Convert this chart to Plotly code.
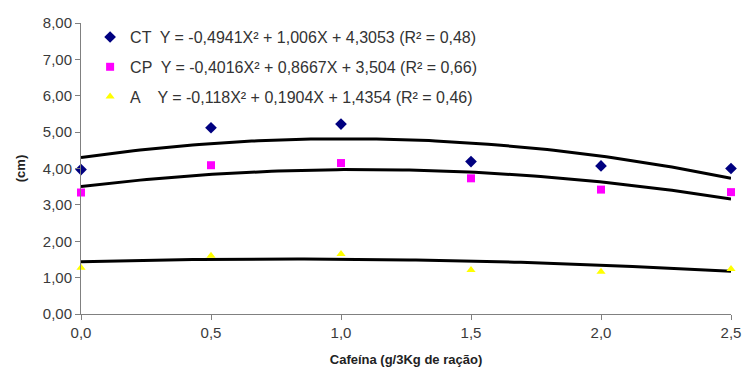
import numpy as np
import plotly.graph_objects as go

# ---- data ----
doses = [0.0, 0.5, 1.0, 1.5, 2.0, 2.5]
ct_vals = [3.97, 5.12, 5.22, 4.19, 4.07, 4.00]
cp_vals = [3.34, 4.09, 4.15, 3.73, 3.42, 3.35]
a_vals = [1.27, 1.60, 1.65, 1.21, 1.16, 1.24]

# trendline coefficients (a, b, c) for Y = aX^2 + bX + c, as printed on the chart
ct_coef = [-0.4941, 1.006, 4.3053]
cp_coef = [-0.4016, 0.8667, 3.504]
a_coef = [-0.118, 0.1904, 1.4354]

ct_label = "CT  Y = -0,4941X² + 1,006X + 4,3053 (R² = 0,48)"
cp_label = "CP  Y = -0,4016X² + 0,8667X + 3,504 (R² = 0,66)"
a_label = "A    Y = -0,118X² + 0,1904X + 1,4354 (R² = 0,46)"

x_ticks = [0.0, 0.5, 1.0, 1.5, 2.0, 2.5]
y_ticks = [0, 1, 2, 3, 4, 5, 6, 7, 8]

FONT = "Liberation Sans, Arial, sans-serif"

fig = go.Figure()

xs = np.linspace(min(doses), max(doses), 100)
for coef in (ct_coef, cp_coef, a_coef):
    fig.add_trace(go.Scatter(
        x=xs, y=np.polyval(coef, xs), mode="lines",
        line=dict(color="black", width=3), showlegend=False, hoverinfo="skip",
    ))

series = [
    (ct_label, ct_vals, "diamond", "#000080", 9, "g1"),
    (cp_label, cp_vals, "square", "#FF00FF", 8, "g2"),
    (a_label, a_vals, "triangle-up", "#FFFF00", 8, "g3"),
]
for name, vals, sym, col, size, grp in series:
    fig.add_trace(go.Scatter(
        x=doses, y=vals, mode="markers", name=name, legendgroup=grp,
        marker=dict(symbol=sym, color=col, size=size, line=dict(width=0)),
        cliponaxis=False,
    ))

fig.update_layout(
    width=743, height=376,
    margin=dict(l=81, r=12, t=23, b=62),
    paper_bgcolor="white", plot_bgcolor="white",
    separators=",.",
    font=dict(family=FONT, size=15, color="#3a3a3a"),
    legend=dict(
        x=0.014, y=1.01, xanchor="left", yanchor="top",
        bgcolor="rgba(0,0,0,0)", font=dict(size=16, color="#333333"),
        tracegroupgap=6, itemsizing="trace",
    ),
    xaxis=dict(
        range=[0, 2.5], tickvals=x_ticks, tickformat=".1f", automargin=False,
        showgrid=False, zeroline=False, showline=True, linecolor="#808080", linewidth=1,
        ticks="outside", ticklen=5, tickcolor="#808080",
        title=dict(text="<b>Cafeína (g/3Kg de ração)</b>", font=dict(size=13, color="#222222"), standoff=14),
    ),
    yaxis=dict(
        range=[0, 8], tickvals=y_ticks, tickformat=".2f", automargin=False,
        showgrid=False, zeroline=False, showline=True, linecolor="#808080", linewidth=1,
        ticks="outside", ticklen=5, tickcolor="#808080",
        title=dict(text="<b>(cm)</b>", font=dict(size=13, color="#222222"), standoff=14),
    ),
)

fig.write_html("out.html")
